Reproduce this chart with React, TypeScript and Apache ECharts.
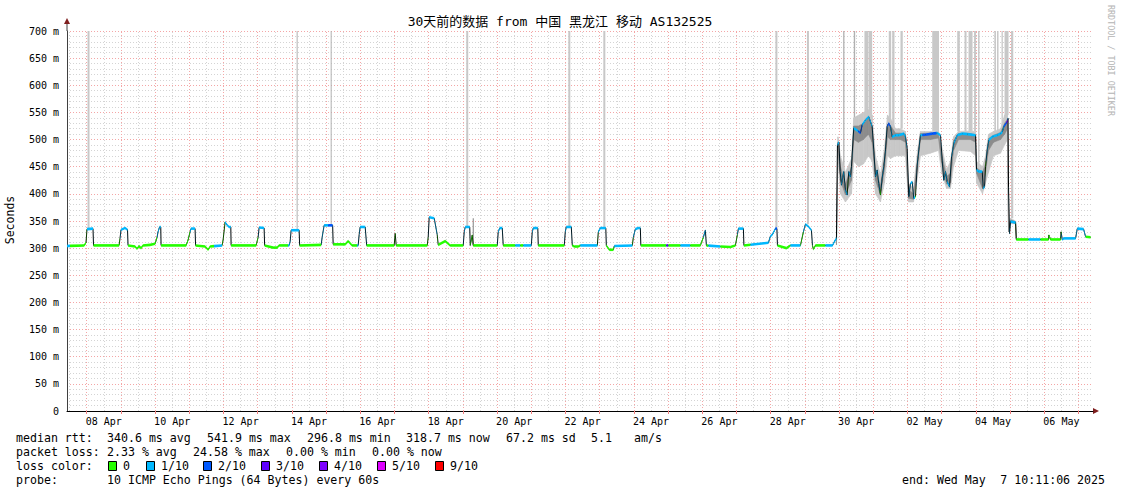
import React, { useEffect, useRef } from "react";
import * as echarts from "echarts";

// x unit: days since Apr 7 2025 00:00 (graph spans Apr 7 10:11:06 .. May 7 10:11:06)
const START_DAY = 0.4244;
const END_DAY = 30.4244;

const xLabelDays = [1.5, 3.5, 5.5, 7.5, 9.5, 11.5, 13.5, 15.5, 17.5, 19.5, 21.5, 23.5, 25.5, 27.5, 29.5];
const xLabels = ["08 Apr", "10 Apr", "12 Apr", "14 Apr", "16 Apr", "18 Apr", "20 Apr", "22 Apr", "24 Apr", "26 Apr", "28 Apr", "30 Apr", "02 May", "04 May", "06 May"];

// median rtt [day, ms]
const medianPoints: [number, number][] = [
  [0.424, 304], [0.922, 305], [0.98, 310], [1.009, 335], [1.185, 336], [1.2, 305],
  [1.946, 305], [1.975, 318], [2.004, 334], [2.121, 337], [2.194, 334], [2.209, 305],
  [2.414, 303], [2.472, 299], [2.531, 304], [2.589, 300], [2.648, 305], [2.853, 306], [2.999, 308],
  [3.058, 320], [3.087, 330], [3.131, 339], [3.166, 339], [3.175, 305],
  [3.906, 305], [3.965, 315], [4.023, 330], [4.052, 336], [4.169, 336], [4.184, 305],
  [4.462, 303], [4.55, 297], [4.608, 303], [4.959, 305],
  [4.989, 315], [5.047, 348], [5.097, 343], [5.164, 339], [5.214, 339], [5.223, 305],
  [5.954, 305], [6.013, 320], [6.042, 338], [6.188, 337], [6.203, 305],
  [6.451, 301], [6.568, 301], [6.627, 305], [6.919, 305],
  [6.949, 312], [6.978, 333], [7.212, 333], [7.227, 305],
  [7.856, 306], [7.885, 320], [7.943, 342], [8.192, 342], [8.207, 307],
  [8.558, 307], [8.646, 313], [8.763, 305], [8.938, 305],
  [8.967, 325], [8.997, 339], [9.143, 339], [9.187, 305],
  [9.991, 305], [10.021, 327], [10.05, 305],
  [10.957, 305], [10.986, 320], [11.015, 357], [11.162, 355], [11.249, 325], [11.279, 306],
  [11.484, 313], [11.63, 305], [12.01, 305],
  [12.039, 330], [12.069, 339], [12.2, 339], [12.215, 305], [12.273, 324], [12.303, 305],
  [13.005, 305], [13.034, 330], [13.078, 337], [13.151, 337], [13.18, 305],
  [14.0, 305], [14.029, 330], [14.058, 337], [14.19, 337], [14.204, 305],
  [14.965, 305], [14.994, 330], [15.024, 339], [15.17, 339], [15.199, 305],
  [15.258, 303], [15.375, 303], [15.433, 305], [15.931, 305],
  [15.96, 330], [16.018, 337], [16.179, 337], [16.194, 305],
  [16.282, 297], [16.399, 297], [16.428, 304], [16.955, 305],
  [16.984, 320], [17.042, 335], [17.13, 337], [17.189, 337], [17.203, 305],
  [18.944, 305], [19.032, 320], [19.09, 333], [19.12, 305],
  [19.529, 303], [19.822, 302], [19.968, 305],
  [20.027, 325], [20.056, 336], [20.202, 336], [20.217, 305],
  [20.934, 310], [20.992, 322], [21.051, 325], [21.138, 336], [21.182, 336], [21.197, 305],
  [21.46, 300], [21.577, 305], [21.87, 305],
  [21.957, 330], [22.016, 344], [22.104, 340], [22.192, 333], [22.221, 305], [22.25, 298], [22.309, 305],
  [22.806, 305], [22.864, 312], [22.923, 318],
  [22.952, 490], [22.996, 495], [23.031, 441], [23.069, 416], [23.137, 441], [23.186, 407], [23.236, 398], [23.283, 441], [23.333, 431], [23.362, 450],
  [23.429, 521], [23.529, 517], [23.625, 512], [23.675, 527], [23.771, 536], [23.868, 542], [23.967, 524],
  [24.014, 481], [24.064, 431], [24.114, 444], [24.16, 419], [24.21, 398], [24.26, 429], [24.307, 450], [24.357, 481],
  [24.406, 524], [24.453, 530], [24.503, 524], [24.553, 505], [24.649, 508], [24.746, 508], [24.892, 511], [24.942, 505],
  [24.991, 484], [25.038, 395], [25.088, 419], [25.138, 422], [25.184, 392], [25.234, 395], [25.284, 453], [25.331, 481],
  [25.38, 508], [25.527, 509], [25.723, 511], [25.869, 512], [25.966, 508],
  [26.015, 462], [26.062, 425], [26.112, 441], [26.162, 422], [26.229, 413], [26.288, 468], [26.355, 493],
  [26.454, 508], [26.601, 511], [26.756, 510], [26.99, 508],
  [27.019, 444], [27.086, 441], [27.186, 441], [27.215, 410], [27.253, 413], [27.282, 450], [27.332, 481], [27.379, 499],
  [27.478, 505], [27.525, 506], [27.624, 508], [27.721, 511], [27.771, 514], [27.818, 524], [27.917, 533], [27.94, 539],
  [27.955, 411], [27.984, 327], [28.014, 349], [28.16, 347], [28.18, 316],
  [29.125, 316], [29.134, 324], [29.184, 316], [29.477, 316], [29.491, 330], [29.526, 316], [29.573, 318],
  [29.915, 318], [29.965, 336], [30.149, 335], [30.208, 321], [30.354, 320],
];

// loss segments [startDay, endDay, lossLevel]; everything else is 0 loss
const lossSegments: [number, number, number][] = [
  [0.424, 0.512, 1], [1.009, 1.2, 1], [1.975, 2.209, 1], [3.058, 3.175, 1], [4.023, 4.184, 1],
  [4.725, 4.959, 1], [5.047, 5.223, 1], [6.013, 6.203, 1], [6.89, 7.227, 1],
  [7.856, 8.06, 1], [8.06, 8.19, 2], [8.19, 8.207, 1], [8.909, 9.187, 1],
  [10.986, 11.249, 1], [12.01, 12.215, 1], [13.005, 13.18, 1], [13.532, 13.678, 1], [13.766, 14.204, 1],
  [14.965, 15.199, 1], [15.433, 15.931, 1], [15.96, 16.194, 1], [16.428, 16.955, 1], [16.984, 17.203, 1],
  [17.949, 18.008, 3], [18.36, 18.65, 1], [19.032, 19.12, 1], [19.179, 19.529, 1], [20.027, 20.217, 1],
  [20.408, 21.138, 1], [21.138, 21.197, 2], [21.577, 21.87, 1], [21.957, 22.221, 1],
  [22.601, 23.24, 1], [23.27, 23.56, 1], [23.56, 23.68, 2], [23.68, 24.19, 1], [24.23, 24.41, 1],
  [24.41, 24.5, 2], [24.5, 25.22, 1], [25.25, 25.44, 1], [25.44, 25.85, 2], [25.85, 27.27, 1],
  [27.3, 27.82, 1], [27.82, 27.9, 2], [27.9, 27.93, 4], [27.93, 28.16, 1],
  [28.54, 28.89, 1], [29.5, 30.21, 1],
];

// smoke [day, outerLow, innerLow, innerHigh, outerHigh]
const smokePoints: [number, number, number, number, number][] = [
  [22.923, 306, 306, 306, 306], [22.967, 470, 485, 495, 505], [23.04, 400, 425, 450, 470],
  [23.186, 385, 398, 418, 440], [23.362, 400, 425, 450, 465], [23.429, 460, 500, 525, 540],
  [23.566, 450, 495, 525, 545], [23.712, 455, 500, 530, 550], [23.859, 470, 510, 540, 555],
  [23.967, 460, 495, 525, 545], [24.064, 400, 425, 445, 470], [24.21, 385, 398, 415, 435],
  [24.327, 420, 445, 465, 485], [24.415, 470, 505, 528, 545], [24.503, 465, 500, 526, 540],
  [24.649, 470, 500, 512, 520], [24.795, 470, 500, 512, 520], [24.942, 470, 495, 510, 515],
  [25.03, 385, 392, 408, 420], [25.176, 385, 390, 400, 410], [25.293, 430, 448, 462, 480],
  [25.38, 470, 500, 511, 515], [25.673, 475, 500, 512, 515], [25.907, 480, 503, 512, 516],
  [25.995, 440, 458, 475, 490], [26.141, 410, 418, 432, 445], [26.258, 410, 420, 438, 460],
  [26.346, 450, 480, 498, 505], [26.492, 480, 500, 511, 515], [26.843, 478, 500, 511, 516],
  [26.99, 470, 495, 509, 515], [27.019, 420, 438, 448, 460], [27.194, 400, 410, 440, 450],
  [27.282, 420, 440, 455, 470], [27.37, 440, 480, 502, 510], [27.516, 470, 495, 508, 515],
  [27.721, 475, 500, 513, 520], [27.838, 490, 510, 530, 545], [27.925, 500, 520, 538, 552],
  [27.955, 330, 330, 335, 340], [28.014, 345, 347, 352, 355], [28.16, 345, 346, 349, 350],
  [28.189, 316, 316, 316, 316],
];

// max-ping spikes [startDay, endDay, low, high, shade]
const spikes: [number, number, number, number, number][] = [
  [1.024, 1.083, 336, 700, 0], [7.139, 7.168, 333, 700, 1], [8.134, 8.163, 342, 700, 1],
  [12.098, 12.156, 339, 700, 0], [12.288, 12.317, 305, 355, 2], [15.082, 15.141, 339, 700, 0],
  [16.106, 16.165, 337, 700, 0], [21.138, 21.197, 336, 700, 0], [22.06, 22.118, 344, 700, 0],
  [23.119, 23.157, 441, 700, 1], [23.429, 23.47, 521, 700, 1], [23.741, 23.859, 540, 700, 0],
  [23.868, 23.967, 545, 700, 0], [24.453, 24.523, 540, 700, 0], [24.553, 24.62, 520, 700, 0],
  [24.795, 24.862, 520, 700, 0], [25.723, 25.922, 516, 700, 0], [26.454, 26.53, 515, 700, 0],
  [26.668, 26.727, 515, 700, 0], [26.785, 26.902, 516, 700, 0], [26.946, 27.005, 515, 700, 0],
  [27.063, 27.107, 450, 700, 0], [27.54, 27.587, 515, 700, 0], [27.618, 27.662, 515, 700, 0],
  [27.75, 27.788, 520, 700, 0], [27.838, 27.955, 545, 700, 0], [28.028, 28.093, 355, 700, 0],
];

const lossColors: Record<number, string> = {
  0: "#26ff00", 1: "#00b8ff", 2: "#0059ff", 3: "#5e00ff", 4: "#7e00ff", 5: "#dd00ff", 9: "#ff0000",
};
const legendLevels = [0, 1, 2, 3, 4, 5, 9];
const legendNames = ["0", "1/10", "2/10", "3/10", "4/10", "5/10", "9/10"];
const spikeColors = ["#c8c8c8", "#b0b0b0", "#808080"];

const statsLines = ["median rtt:", "packet loss:", "loss color:", "probe:"];
const medianStats = ["340.6 ms avg", "541.9 ms max", "296.8 ms min", "318.7 ms now", "67.2 ms sd", "5.1", "am/s"];
const lossStats = ["2.33 % avg", "24.58 % max", "0.00 % min", "0.00 % now"];
const probeText = "10 ICMP Echo Pings (64 Bytes) every 60s";
const endText = ["end: Wed May", "7 10:11:06 2025"];
const titleText = "30天前的数据 from 中国 黑龙江 移动 AS132525";

const MONO = '"DejaVu Sans Mono", "Noto Sans CJK SC", monospace';

function lossAt(d: number) {
  for (const [s, e, l] of lossSegments) if (d >= s && d < e) return l;
  return 0;
}

function buildOption() {
  // split median segments at loss-colour boundaries for the coloured band
  const band: number[][] = [];
  for (let i = 0; i < medianPoints.length - 1; i++) {
    const [x0, y0] = medianPoints[i];
    const [x1, y1] = medianPoints[i + 1];
    const cuts = [x0, x1];
    for (const [s, e] of lossSegments) {
      if (s > x0 && s < x1) cuts.push(s);
      if (e > x0 && e < x1) cuts.push(e);
    }
    cuts.sort((a, b) => a - b);
    for (let k = 0; k < cuts.length - 1; k++) {
      const a = cuts[k], b = cuts[k + 1];
      const ya = y0 + ((y1 - y0) * (a - x0)) / (x1 - x0);
      const yb = y0 + ((y1 - y0) * (b - x0)) / (x1 - x0);
      band.push([a, ya, b, yb, lossAt((a + b) / 2)]);
    }
  }
  const smokeOuter: number[][] = [];
  const smokeInner: number[][] = [];
  for (let i = 0; i < smokePoints.length - 1; i++) {
    const p = smokePoints[i], q = smokePoints[i + 1];
    smokeOuter.push([p[0], p[1], p[4], q[0], q[1], q[4]]);
    smokeInner.push([p[0], p[2], p[3], q[0], q[2], q[3]]);
  }
  const quad = (color: string) => (params: any, api: any) => {
    const a0 = api.coord([api.value(0), api.value(1)]);
    const a1 = api.coord([api.value(0), api.value(2)]);
    const b0 = api.coord([api.value(3), api.value(4)]);
    const b1 = api.coord([api.value(3), api.value(5)]);
    return {
      type: "polygon",
      shape: { points: [a0, b0, b1, a1] },
      style: { fill: color, stroke: color, lineWidth: 0.6 },
    };
  };

  const midnights: number[] = [];
  for (let d = 1; d <= 30; d++) midnights.push(d);
  const noons: number[] = [];
  for (let d = 0.5; d < END_DAY; d += 1) noons.push(d);

  const graphic: any[] = [];
  graphic.push({
    type: "text", x: 560, y: 21,
    style: { text: titleText, font: `13px ${MONO}`, fill: "#000", align: "center", verticalAlign: "middle" },
  });
  graphic.push({
    type: "text", x: 1111, y: 5, rotation: -Math.PI / 2,
    style: { text: "RRDTOOL / TOBI OETIKER", font: `8.4px ${MONO}`, fill: "#b4b4b4", align: "left", verticalAlign: "middle" },
  });
  graphic.push({
    type: "text", x: 10, y: 220, rotation: Math.PI / 2,
    style: { text: "Seconds", font: `11.5px ${MONO}`, fill: "#000", align: "center", verticalAlign: "middle" },
  });
  graphic.push({ type: "line", shape: { x1: 67, y1: 31, x2: 67, y2: 22 }, style: { stroke: "#404040", lineWidth: 1 } });
  graphic.push({ type: "polygon", shape: { points: [[64, 24], [70, 24], [67, 18]] }, style: { fill: "#7f1f1f" } });
  graphic.push({ type: "polygon", shape: { points: [[1093, 408], [1093, 414], [1099, 411]] }, style: { fill: "#7f1f1f" } });

  const rows = [438, 452, 466, 480];
  const legFont = `11.6px ${MONO}`;
  const txt = (text: string, x: number, y: number, align = "left") => ({
    type: "text", x, y, style: { text, font: legFont, fill: "#000", align, verticalAlign: "middle" },
  });
  statsLines.forEach((t, i) => graphic.push(txt(t, 16, rows[i])));
  const medX = [107, 207, 307, 406, 506, 591, 634];
  medianStats.forEach((t, i) => graphic.push(txt(t, medX[i], rows[0])));
  const lossX = [107, 193, 286, 372];
  lossStats.forEach((t, i) => graphic.push(txt(t, lossX[i], rows[1])));
  const swX = [108, 146, 203, 261, 319, 377, 435];
  legendLevels.forEach((lvl, i) => {
    graphic.push({
      type: "rect", shape: { x: swX[i] + 0.5, y: rows[2] - 4.5, width: 8, height: 9 },
      style: { fill: lossColors[lvl], stroke: "#000", lineWidth: 1 },
    });
    graphic.push(txt(legendNames[i], swX[i] + 15, rows[2]));
  });
  graphic.push(txt(probeText, 107, rows[3]));
  graphic.push(txt(endText[0], 902, rows[3]));
  graphic.push(txt(endText[1], 1105, rows[3], "right"));

  const gridLine = (color: string, days: number[]) => ({
    silent: true, z: 1, symbol: ["none", "none"], label: { show: false },
    emphasis: { disabled: true },
    lineStyle: { color, type: [1, 2], width: 1 },
    data: days.map((d) => ({ xAxis: d })),
  });

  return {
    animation: false,
    backgroundColor: "#ffffff",
    grid: { left: 67, right: 28, top: 31, bottom: 83, containLabel: false },
    xAxis: {
      type: "value", min: START_DAY, max: END_DAY,
      axisLine: { show: true, onZero: false, lineStyle: { color: "#000", width: 1 } },
      axisTick: { show: true, customValues: midnights, length: 3, lineStyle: { color: "#f08080" } },
      axisLabel: {
        customValues: xLabelDays, margin: 5, fontFamily: MONO, fontSize: 10, color: "#000",
        formatter: (v: number) => {
          const i = xLabelDays.findIndex((d) => Math.abs(d - v) < 1e-6);
          return i >= 0 ? xLabels[i] : "";
        },
      },
      splitLine: { show: false },
    },
    yAxis: {
      type: "value", min: 0, max: 700, interval: 50,
      axisLine: { show: true, lineStyle: { color: "#404040", width: 1 } },
      axisTick: { show: false },
      axisLabel: {
        margin: 8, fontFamily: MONO, fontSize: 10, color: "#000",
        formatter: (v: number) => (v === 0 ? "0" : `${v} m`),
      },
      splitLine: { show: true, lineStyle: { color: "#f4a6a6", type: [1, 2], width: 1 } },
      minorTick: { show: false, splitNumber: 5 },
      minorSplitLine: { show: true, lineStyle: { color: "#d4d4d4", type: [1, 2], width: 1 } },
    },
    graphic,
    series: [
      {
        type: "line", data: [[START_DAY, 0]], showSymbol: false, z: 1, silent: true,
        lineStyle: { opacity: 0 }, markLine: gridLine("#d4d4d4", noons),
      },
      {
        type: "line", data: [[START_DAY, 0]], showSymbol: false, z: 1, silent: true,
        lineStyle: { opacity: 0 }, markLine: gridLine("#f4a6a6", midnights),
      },
      {
        type: "custom", z: 2, silent: true, clip: true,
        data: spikes,
        encode: { x: [0, 1], y: [2, 3] },
        renderItem: (params: any, api: any) => {
          const p0 = api.coord([api.value(0), api.value(3)]);
          const p1 = api.coord([api.value(1), api.value(2)]);
          return {
            type: "rect",
            shape: { x: p0[0], y: p0[1], width: Math.max(1, p1[0] - p0[0]), height: p1[1] - p0[1] },
            style: { fill: spikeColors[api.value(4)] },
          };
        },
      },
      {
        type: "custom", z: 3, silent: true, clip: true,
        data: smokeOuter, encode: { x: [0, 3], y: [1, 2, 4, 5] },
        renderItem: quad("#c8c8c8"),
      },
      {
        type: "custom", z: 4, silent: true, clip: true,
        data: smokeInner, encode: { x: [0, 3], y: [1, 2, 4, 5] },
        renderItem: quad("#8c8c8c"),
      },
      {
        type: "line", z: 5, silent: true, data: medianPoints, showSymbol: false,
        lineStyle: { color: "#000", width: 1 },
      },
      {
        type: "custom", z: 6, silent: true, clip: true,
        data: band, encode: { x: [0, 2], y: [1, 3] },
        renderItem: (params: any, api: any) => {
          const a = api.coord([api.value(0), api.value(1)]);
          const b = api.coord([api.value(2), api.value(3)]);
          const h = 1.3;
          const c = lossColors[api.value(4)] || lossColors[0];
          return {
            type: "polygon",
            shape: { points: [[a[0], a[1] - h], [b[0], b[1] - h], [b[0], b[1] + h], [a[0], a[1] + h]] },
            style: { fill: c },
          };
        },
      },
    ],
  };
}

export default function App() {
  const ref = useRef<HTMLDivElement>(null);
  useEffect(() => {
    document.body.style.margin = "0";
    const chart = echarts.init(ref.current as HTMLDivElement, null, { renderer: "svg", width: 1121, height: 494 });
    chart.setOption(buildOption() as any);
    return () => chart.dispose();
  }, []);
  return <div ref={ref} style={{ width: 1121, height: 494 }} />;
}
